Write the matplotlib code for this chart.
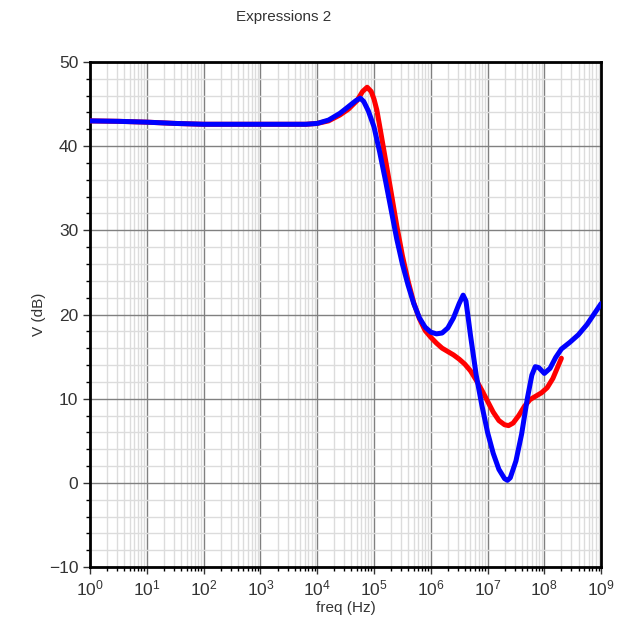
import numpy as np
import matplotlib
matplotlib.use("Agg")
import matplotlib.pyplot as plt
from matplotlib.ticker import FixedLocator, FuncFormatter, MultipleLocator

plt.rcParams['font.family'] = ['Liberation Sans', 'DejaVu Sans']

# log10(freq), V(dB)
blue_logf = [0, 0.5, 1.0, 1.5, 2.0, 3.0, 3.8, 4.0, 4.2, 4.4, 4.55, 4.68, 4.76, 4.82, 4.9,
             5.0, 5.1, 5.2, 5.3, 5.4, 5.5, 5.6, 5.7, 5.8, 5.9, 6.0, 6.1, 6.2, 6.3, 6.4,
             6.5, 6.57, 6.62, 6.7, 6.8, 6.9, 7.0, 7.1, 7.2, 7.3, 7.35, 7.4, 7.5, 7.6,
             7.7, 7.78, 7.84, 7.9, 8.0, 8.1, 8.2, 8.3, 8.45, 8.6, 8.75, 8.9, 9.0]
blue_v = [43.0, 42.95, 42.85, 42.7, 42.6, 42.6, 42.6, 42.7, 43.1, 43.9, 44.7, 45.4, 45.7, 45.3, 44.2,
          42.3, 39.3, 36.0, 32.5, 29.0, 26.0, 23.5, 21.3, 19.6, 18.5, 17.9, 17.7, 17.8, 18.4, 19.6,
          21.3, 22.3, 21.6, 17.5, 12.8, 9.2, 6.0, 3.5, 1.6, 0.5, 0.3, 0.6, 2.6, 5.8,
          10.0, 12.8, 13.8, 13.7, 13.0, 13.6, 14.9, 15.9, 16.7, 17.6, 18.8, 20.3, 21.3]

red_logf = [0, 0.5, 1.0, 1.5, 2.0, 3.0, 3.8, 4.0, 4.2, 4.4, 4.55, 4.7, 4.8, 4.88, 4.95,
            5.0, 5.05, 5.1, 5.2, 5.3, 5.4, 5.5, 5.6, 5.7, 5.8, 5.9, 6.0, 6.1, 6.2, 6.3,
            6.4, 6.5, 6.6, 6.7, 6.8, 6.9, 7.0, 7.1, 7.2, 7.3, 7.37, 7.45, 7.55, 7.65,
            7.75, 7.85, 7.95, 8.05, 8.15, 8.25, 8.3]
red_v = [43.0, 42.95, 42.85, 42.7, 42.6, 42.6, 42.6, 42.7, 43.0, 43.7, 44.4, 45.4, 46.5, 47.0, 46.5,
         45.6, 44.3, 42.4, 38.5, 34.6, 30.6, 27.0, 24.0, 21.4, 19.5, 18.1, 17.3, 16.6, 16.0, 15.6,
         15.2, 14.7, 14.1, 13.3, 12.2, 11.0, 9.7, 8.4, 7.4, 6.9, 6.8, 7.1, 8.0, 9.1,
         9.9, 10.3, 10.7, 11.3, 12.4, 14.0, 14.8]

fig = plt.figure(figsize=(6.21, 6.18), dpi=100)
ax = fig.add_axes([0.145, 0.0825, 0.823, 0.8172])

ax.plot(10 ** np.array(red_logf), red_v, color='#ff0000', lw=3.6, solid_capstyle='round', zorder=3)
ax.plot(10 ** np.array(blue_logf), blue_v, color='#0000ff', lw=3.6, solid_capstyle='round', zorder=4)

ax.set_xscale('log')
ax.set_xlim(1, 1e9)
ax.set_ylim(-10, 50)

ax.xaxis.set_major_locator(FixedLocator([10.0 ** k for k in range(10)]))
ax.xaxis.set_minor_locator(FixedLocator([m * 10.0 ** k for k in range(9) for m in range(2, 10)]))
ax.xaxis.set_major_formatter(FuncFormatter(lambda v, p: r'$\mathregular{10^{%d}}$' % round(np.log10(v))))
ax.yaxis.set_major_locator(MultipleLocator(10))
ax.yaxis.set_minor_locator(MultipleLocator(2))
ax.yaxis.set_major_formatter(FuncFormatter(lambda v, p: '\u2212%d' % -v if v < 0 else '%d' % v))

ax.grid(True, which='major', color='#808080', lw=1.0, zorder=1)
ax.grid(True, which='minor', color='#dcdcdc', lw=1.0, zorder=0)
ax.set_axisbelow(True)

ax.tick_params(which='major', direction='out', length=5, width=1, labelsize=12.5, colors='#333333')
ax.tick_params(which='minor', direction='out', length=3, width=1)
for s in ax.spines.values():
    s.set_linewidth(2)
    s.set_color('black')

ax.set_xlabel('freq (Hz)', fontsize=11, labelpad=2, color='#333333')
ax.set_ylabel('V (dB)', fontsize=11, labelpad=2, color='#333333')
fig.text(0.456, 0.972, 'Expressions 2', ha='center', va='center', fontsize=11, color='#333333')

plt.savefig('out.png', dpi=100)
